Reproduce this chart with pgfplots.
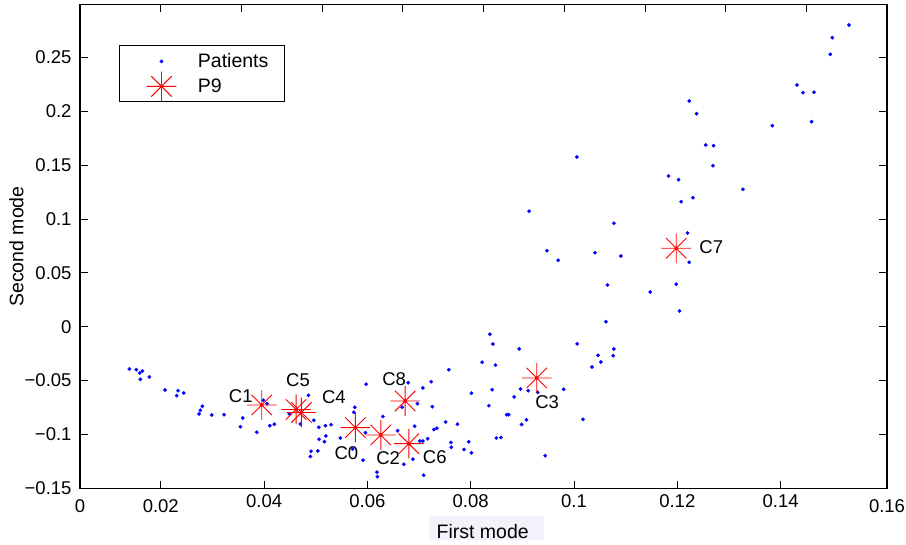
\documentclass[border=0pt]{standalone}
\usepackage{fontspec}
\setmainfont{Liberation Sans}
\usepackage{pgfplots}
\pgfplotsset{compat=1.18}
\definecolor{mblue}{RGB}{0,0,255}
\definecolor{mred}{RGB}{255,0,0}
\definecolor{xlabbg}{RGB}{242,243,250}
\pgfdeclareplotmark{mstar}{%
  \pgfpathmoveto{\pgfpoint{-\pgfplotmarksize}{0pt}}\pgfpathlineto{\pgfpoint{\pgfplotmarksize}{0pt}}%
  \pgfpathmoveto{\pgfpoint{0pt}{-\pgfplotmarksize}}\pgfpathlineto{\pgfpoint{0pt}{\pgfplotmarksize}}%
  \pgfpathmoveto{\pgfpoint{-0.69\pgfplotmarksize}{-0.69\pgfplotmarksize}}\pgfpathlineto{\pgfpoint{0.69\pgfplotmarksize}{0.69\pgfplotmarksize}}%
  \pgfpathmoveto{\pgfpoint{-0.69\pgfplotmarksize}{0.69\pgfplotmarksize}}\pgfpathlineto{\pgfpoint{0.69\pgfplotmarksize}{-0.69\pgfplotmarksize}}%
  \pgfusepathqstroke
  \pgfpathcircle{\pgfpointorigin}{1.8pt}\pgfusepathqfill
}
\newcommand{\tfont}{\fontsize{18.5}{20}\selectfont}
\newcommand{\lfont}{\fontsize{19.5}{22}\selectfont}
\begin{document}
\begin{tikzpicture}
\useasboundingbox (-80pt,-56.7pt) rectangle (826pt,488.3pt);
\fill[xlabbg] (349.3pt,-27.7pt) rectangle (464pt,-51.7pt);
\begin{axis}[
  at={(0pt,0pt)}, anchor=south west,
  scale only axis, width=807pt, height=483.6pt,
  xmin=0.00436, xmax=0.1606, ymin=-0.15, ymax=0.299,
  xtick={0.00436,0.02,0.04,0.06,0.08,0.1,0.12,0.14,0.1606},
  xticklabels={\raisebox{-5.5pt}[\height]{0},\raisebox{-5.3pt}[\height]{0.02},0.04,0.06,0.08,0.1,0.12,0.14,\raisebox{-5.3pt}[\height]{0.16}},
  ytick={-0.15,-0.1,-0.05,0,0.05,0.1,0.15,0.2,0.25},
  yticklabels={−0.15,−0.1,−0.05,0,0.05,0.1,0.15,0.2,0.25},
  xtick pos=left, ytick pos=both, yticklabel pos=left,
  tick align=inside, major tick length=7.7pt,
  every tick/.style={black, line width=0.8pt},
  axis line style={black, line width=1.1pt},
  xticklabel style={font=\tfont, inner sep=0pt, anchor=north, yshift=-5.7pt},
  yticklabel style={font=\tfont, inner sep=0pt, anchor=east, xshift=-8.3pt},
  xlabel={First mode}, ylabel={Second mode},
  xlabel style={font=\lfont, inner sep=0pt, at={(axis description cs:0.499,-0.10443)}, anchor=base},
  ylabel style={font=\lfont, inner sep=0pt, at={(axis description cs:-0.07026,0.5)}, anchor=base},
  legend cell align=left,
  legend style={at={(axis description cs:0.0487,0.9167)}, anchor=north west,
    draw=black, line width=0.8pt, fill=white,
    inner xsep=0pt, inner ysep=0.5pt, row sep=0pt,
    nodes={anchor=base, inner sep=0pt, text width=86pt, text height=22pt, text depth=3pt, align=left, font=\lfont},
    /tikz/every odd column/.append style={column sep=5.4pt}},
  legend image code/.code={\path (0pt,0pt) (72pt,0pt); \draw[#1] plot coordinates {(41.4pt,6.5pt)};},
  clip=false,
]
\addplot[only marks, mark=*, mark size=1.8pt, mark options={draw=mblue, fill=mblue, line width=0.2pt}] coordinates {
(0.01391,-0.03923) (0.01526,-0.03988) (0.01592,-0.04294) (0.01643,-0.04109) (0.01604,-0.04879)
(0.01778,-0.04666) (0.02082,-0.05873) (0.02334,-0.05938) (0.02309,-0.06402) (0.02444,-0.06151)
(0.02805,-0.07386) (0.02766,-0.07758) (0.02741,-0.08101) (0.02987,-0.08194) (0.03225,-0.08166)
(0.03587,-0.08473) (0.03541,-0.09280) (0.03858,-0.09800) (0.03986,-0.06829) (0.04058,-0.07145)
(0.04110,-0.09188) (0.04199,-0.09058) (0.04490,-0.08101) (0.04703,-0.09030) (0.04858,-0.06365)
(0.04962,-0.08686) (0.05059,-0.09336) (0.05187,-0.09188) (0.05297,-0.09095) (0.05065,-0.10450)
(0.05195,-0.10144) (0.05168,-0.10673) (0.04910,-0.11565) (0.05040,-0.11537) (0.04896,-0.12047)
(0.05478,-0.10330) (0.05756,-0.07479) (0.05737,-0.07943) (0.05975,-0.05343) (0.05962,-0.09837)
(0.05714,-0.11351) (0.05917,-0.12391) (0.06789,-0.05195) (0.07073,-0.05687) (0.07234,-0.05102)
(0.06673,-0.07479) (0.06969,-0.07145) (0.07257,-0.07423) (0.06299,-0.08333) (0.06585,-0.09661)
(0.06915,-0.09243) (0.07017,-0.10608) (0.07075,-0.10608) (0.07166,-0.10404) (0.07288,-0.09540)
(0.07345,-0.09429) (0.07515,-0.08844) (0.07744,-0.09048) (0.07616,-0.10747) (0.07624,-0.11193)
(0.07870,-0.11397) (0.07961,-0.10682) (0.08015,-0.11704) (0.06882,-0.12298) (0.06705,-0.12772)
(0.06184,-0.13505) (0.06194,-0.13923) (0.07089,-0.13784) (0.07577,-0.03988) (0.08371,-0.00701)
(0.08429,-0.01602) (0.08939,-0.02066) (0.08222,-0.03301) (0.08480,-0.03570) (0.08015,-0.06170)
(0.08416,-0.05845) (0.08964,-0.05780) (0.09113,-0.05938) (0.09297,-0.06086) (0.08842,-0.06523)
(0.09801,-0.05808) (0.08352,-0.07330) (0.08697,-0.08166) (0.08735,-0.08166) (0.09080,-0.08640)
(0.08987,-0.09076) (0.08497,-0.10330) (0.08586,-0.10283) (0.09442,-0.11973) (0.10174,-0.08593)
(0.10062,-0.01583) (0.10773,-0.02066) (0.10465,-0.02651) (0.10759,-0.02688) (0.10521,-0.03273)
(0.10349,-0.03737) (0.10618,0.00469) (0.10649,0.03876) (0.11476,0.03227) (0.11980,0.03942)
(0.12043,0.01462) (0.09475,0.07061) (0.09694,0.06170) (0.09132,0.10720) (0.10056,0.15761)
(0.10405,0.06875) (0.10908,0.06569) (0.12231,0.05984) (0.12198,0.08705) (0.10773,0.09606)
(0.11830,0.13997) (0.12024,0.13654) (0.12076,0.11611) (0.12303,0.11983) (0.13271,0.12762)
(0.12551,0.16876) (0.12702,0.16810) (0.12690,0.14953) (0.12231,0.20961) (0.12373,0.19782)
(0.13839,0.18668) (0.14600,0.19039) (0.14317,0.22447) (0.14434,0.21732) (0.14647,0.21769)
(0.14962,0.25297) (0.15001,0.26839) (0.15324,0.28018)
};
\addlegendentry{Patients}
\addplot[only marks, mark=mstar, mark size=14.8pt, mark options={draw=mred, fill=mred, line width=0.9pt}] coordinates {
(0.05768,-0.09373) (0.03955,-0.07266) (0.06260,-0.10051) (0.09278,-0.04759) (0.04722,-0.07962)
(0.04619,-0.07683) (0.06802,-0.10859) (0.11980,0.07284) (0.06731,-0.06894)
};
\addlegendentry{P9}
\node[font=\tfont, inner sep=0pt, xshift=-9pt, yshift=-25pt] at (axis cs:0.05768,-0.09373) {C0};
\node[font=\tfont, inner sep=0pt, xshift=-21pt, yshift=8.5pt] at (axis cs:0.03955,-0.07266) {C1};
\node[font=\tfont, inner sep=0pt, xshift=7.3pt, yshift=-23.3pt] at (axis cs:0.06260,-0.10051) {C2};
\node[font=\tfont, inner sep=0pt, xshift=10.5pt, yshift=-24pt] at (axis cs:0.09278,-0.04759) {C3};
\node[font=\tfont, inner sep=0pt, xshift=32.5pt, yshift=15.5pt] at (axis cs:0.04722,-0.07962) {C4};
\node[font=\tfont, inner sep=0pt, xshift=2pt, yshift=29pt] at (axis cs:0.04619,-0.07683) {C5};
\node[font=\tfont, inner sep=0pt, xshift=26pt, yshift=-13.8pt] at (axis cs:0.06802,-0.10859) {C6};
\node[font=\tfont, inner sep=0pt, xshift=35pt, yshift=1pt] at (axis cs:0.11980,0.07284) {C7};
\node[font=\tfont, inner sep=0pt, xshift=-11pt, yshift=22.3pt] at (axis cs:0.06731,-0.06894) {C8};
\end{axis}
\begin{axis}[
  at={(0pt,0pt)}, anchor=south west,
  scale only axis, width=807pt, height=483.6pt,
  xmin=0, xmax=10, ymin=0, ymax=1,
  xtick={1,2,3,4,5,6,7,8,9}, xticklabels={}, ytick=\empty,
  xtick pos=right, tick align=inside, major tick length=7.7pt,
  every tick/.style={black, line width=0.8pt},
  axis line style={black, line width=1.1pt},
]
\end{axis}
\end{tikzpicture}
\end{document}
